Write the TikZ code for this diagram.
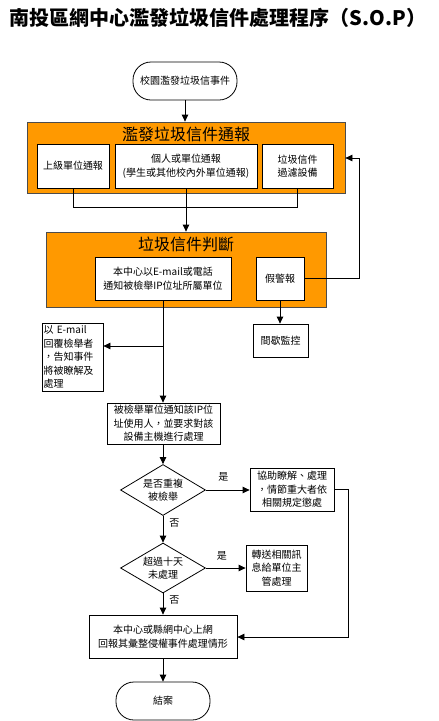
\documentclass[tikz,border=0pt]{standalone}
\usepackage{fontspec}
\setmainfont{Noto Sans CJK TC}
\usetikzlibrary{shapes.geometric,arrows.meta}
\definecolor{orangefill}{HTML}{FF9900}
\tikzset{
  box/.style={draw=black, line width=0.8pt, fill=white, inner sep=0pt, align=center,
    font=\fontsize{10}{13.5}\selectfont},
  grp/.style={draw=black!70, line width=0.8pt, fill=orangefill, inner sep=0pt},
  grptitle/.style={font=\fontsize{16}{18}\selectfont, inner sep=0pt},
  term/.style={draw=black, line width=0.8pt, fill=white, rounded corners=18pt, inner sep=0pt,
    font=\fontsize{10}{13.5}\selectfont},
  dia/.style={draw=black, line width=0.8pt, diamond, aspect=1.67, inner sep=0pt, align=center,
    font=\fontsize{10}{13.5}\selectfont},
  lbl/.style={inner sep=0pt, font=\fontsize{10}{12}\selectfont},
  conn/.style={line width=0.8pt},
  arr/.style={line width=0.8pt, -{Triangle[length=7pt,width=6.5pt]}}
}
\begin{document}
\begin{tikzpicture}[x=1pt,y=-1pt]
\useasboundingbox (0,0) rectangle (439,721);
% title
\node[inner sep=0pt, font=\bfseries\fontsize{20}{22}\selectfont] (title) at (218,18) {南投區網中心濫發垃圾信件處理程序（S.O.P）};
% start
\node[term, minimum width=104pt, minimum height=38pt] (start) at (185,81) {校園濫發垃圾信事件};
% group 1
\node[grp, minimum width=318pt, minimum height=71pt] (g1) at (186,157.5) {};
\node[grptitle] (g1t) at (186,134) {濫發垃圾信件通報};
\node[box, minimum width=72pt, minimum height=44pt] (A) at (73,166) {上級單位通報};
\node[box, minimum width=142pt, minimum height=44pt] (B) at (186,166) {個人或單位通報\\(學生或其他校內外單位通報)};
\node[box, minimum width=71pt, minimum height=44pt] (C) at (297.5,166) {垃圾信件\\過濾設備};
% group 2
\node[grp, minimum width=280pt, minimum height=75pt] (g2) at (186,269.5) {};
\node[grptitle] (g2t) at (186,244) {垃圾信件判斷};
\node[box, minimum width=136pt, minimum height=43pt] (D) at (163,278.5) {本中心以E-mail或電話\\通知被檢舉IP位址所屬單位};
\node[box, minimum width=48pt, minimum height=43pt] (E) at (280,278.5) {假警報};
\node[box, minimum width=55pt, minimum height=33pt] (F) at (280.5,340.5) {間歇監控};
\node[box, minimum width=61pt, minimum height=68pt, align=left, text width=58pt] (G) at (72.5,357) {以 E-mail\\回覆檢舉者\\，告知事件\\將被瞭解及\\處理};
\node[box, minimum width=113pt, minimum height=41pt] (H) at (163.5,423.5) {被檢舉單位通知該IP位\\址使用人，並要求對該\\設備主機進行處理};
\node[dia, minimum width=85pt, minimum height=51pt] (d1) at (163,490) {是否重複\\被檢舉};
\node[box, minimum width=84pt, minimum height=43pt] (I) at (292,489.5) {協助瞭解、處理\\，情節重大者依\\相關規定懲處};
\node[dia, minimum width=85pt, minimum height=50pt] (d2) at (163,568) {超過十天\\未處理};
\node[box, minimum width=61pt, minimum height=46pt] (J) at (276.5,568) {轉送相關訊\\息給單位主\\管處理};
\node[box, minimum width=148pt, minimum height=43pt] (K) at (163,636.5) {本中心或縣網中心上網\\回報其彙整侵權事件處理情形};
\node[term, minimum width=94pt, minimum height=38pt] (end) at (163,701) {結案};
% coordinates
\coordinate (jA) at (73,207);
\coordinate (jC) at (297.5,207);
\coordinate (fb1) at (359,278.5);
\coordinate (fb2) at (359,158);
\coordinate (br) at (163,346);
\coordinate (r1) at (348,489.5);
\coordinate (r2) at (348,637);
% connectors
\draw[arr] (start.south) -- (g1.north -| start.south);
\draw[conn] (A.south) -- (jA) -- (jC) -- (C.south);
\draw[arr] (B.south) -- (g2.north -| B.south);
\draw[arr] (E.east) -- (fb1) -- (fb2) -- (g1.east |- fb2);
\draw[arr] (E.south) -- (F.north -| E.south);
\draw[arr] (D.south) -- (H.north -| D.south);
\draw[arr] (br) -- (G.east |- br);
\draw[arr] (H.south -| d1.north) -- (d1.north);
\draw[arr] (d1.east) -- (I.west |- d1.east) node[lbl, pos=0.4, above=8pt] {是};
\draw[arr] (d1.south) -- (d2.north) node[lbl, pos=0.25, right=6pt] {否};
\draw[arr] (I.east) -- (r1) -- (r2) -- (K.east |- r2);
\draw[arr] (d2.east) -- (J.west |- d2.east) node[lbl, pos=0.4, above=7pt] {是};
\draw[arr] (d2.south) -- (K.north) node[lbl, pos=0.3, right=6pt] {否};
\draw[arr] (K.south) -- (end.north);
\end{tikzpicture}
\end{document}
